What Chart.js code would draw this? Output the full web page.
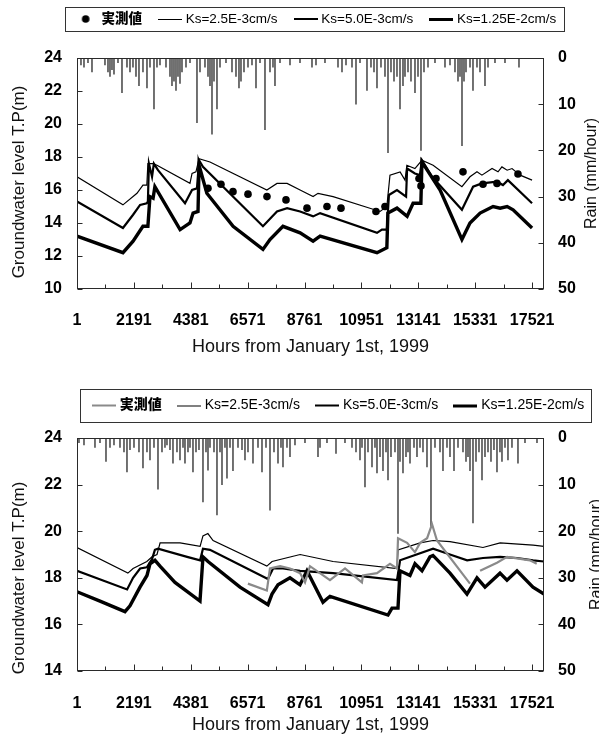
<!DOCTYPE html>
<html>
<head>
<meta charset="utf-8">
<script src="https://cdn.jsdelivr.net/npm/chart.js@4.4.1/dist/chart.umd.min.js"></script>
<style>
  body { margin: 0; background: #fff; }
  .panel { position: absolute; left: 0; width: 599px; }
</style>
</head>
<body>
<div class="panel" style="top:0;height:368px"><canvas id="topChart" width="599" height="368"></canvas></div>
<div class="panel" style="top:368px;height:369px"><canvas id="bottomChart" width="599" height="369"></canvas></div>
<script>
// x axis: hours from 1999-01-01, labelled every 2190 h
const hourTicks = [1, 2191, 4381, 6571, 8761, 10951, 13141, 15331, 17521];
const minorTicks = [1096, 3286, 5476, 7666, 9856, 12046, 14236, 16426];
const legendLabels = ['実測値', 'Ks=2.5E-3cm/s', 'Ks=5.0E-3cm/s', 'Ks=1.25E-2cm/s'];

// ---- upper panel ----  [hour, value]
const topRain = [[154,1.5],[270,2],[424,1],[578,3],[1078,1.5],[1194,3],[1271,4],[1348,2.5],[1425,3.5],[1579,1],
  [1733,7.5],[1925,2],[2041,3],[2156,2],[2272,4],[2387,6],[2541,3],[2695,6.5],[2811,2],[2965,11],[3080,2],[3196,1.5],
  [3427,2],[3581,4],[3658,6],[3735,5],[3812,7],[3889,4],[3966,5.5],[4043,3],[4197,2],[4351,1],[4620,14],[4736,3],
  [4928,2],[5044,4],[5121,6],[5198,16.5],[5275,5],[5390,11],[5506,2],[5737,1],[5968,3],[6122,4],[6237,6.5],[6314,5],
  [6430,3],[6584,2],[6738,1.5],[6892,6.5],[7046,1],[7238,15.5],[7431,3],[7546,2],[7623,6],[7816,1],[8201,1.5],[8586,1],
  [9048,2],[9202,1.5],[9548,1],[10049,2],[10203,3],[10357,1.5],[10588,2],[10742,10],[10896,1],[11165,7],[11319,2],
  [11435,3],[11550,6.5],[11704,2],[11858,4],[11974,20.5],[12089,3],[12205,5],[12320,4],[12436,11],[12551,6],[12628,4],
  [12744,3],[12859,5],[13013,7.5],[13129,4],[13244,20],[13360,3],[13514,2],[13783,1],[14168,2],[14361,1.5],[14553,3],
  [14669,5],[14746,4],[14823,19],[14900,5],[14977,3],[15131,2],[15246,7],[15400,2],[15516,3],[15708,6],[15824,2],
  [16093,1],[16478,1],[17017,2]];
const topObserved = [[5044,16.1],[5544,16.35],[6006,15.9],[6584,15.75],[7315,15.6],[8047,15.4],[8855,14.9],[9625,15.0],
  [10164,14.9],[11512,14.7],[11858,15.0],[13167,16.7],[13244,16.25],[13822,16.7],[14861,17.1],[15631,16.35],[16170,16.4],[16978,16.97]];
const topKs25 = [[1,16.8],[1770,15.1],[2310,15.8],[2540,16.3],[2690,16.3],[2730,17.6],[2930,17.6],[3080,17.5],[4350,16.4],
  [4430,17.0],[4580,17.1],[4700,17.9],[5120,17.7],[7310,16.0],[7700,16.4],[8090,16.4],[8590,16.0],[9090,15.6],[9280,15.8],
  [9860,15.6],[11670,14.7],[11930,15.0],[12050,16.9],[12440,17.1],[12630,16.6],[12700,17.5],[13010,17.3],[13280,17.8],
  [13710,17.5],[14820,16.2],[15130,16.8],[15400,17.1],[15590,16.9],[15980,17.3],[16210,17.1],[16360,17.4],[16560,17.2],
  [16750,17.3],[17060,16.9],[17520,16.6]];
const topKs50 = [[1,15.3],[1770,13.7],[2160,14.5],[2430,15.1],[2690,15.2],[2730,15.3],[2770,17.6],[2890,16.8],[2960,17.6],
  [3120,17.2],[4160,15.2],[4430,16.0],[4620,16.1],[4700,17.8],[4850,17.4],[7160,13.8],[7700,14.7],[8090,14.9],[8590,14.7],
  [9090,14.4],[9360,14.6],[11550,13.4],[11740,13.6],[11930,13.6],[12010,15.7],[12320,16.0],[12670,15.6],[12710,17.3],
  [13010,17.0],[13200,16.9],[13280,17.8],[13670,16.8],[14820,14.8],[15250,16.2],[15590,16.4],[16170,16.5],[16400,16.3],
  [16590,16.6],[17520,15.2]];
const topKs125 = [[1,13.2],[1770,12.2],[2160,12.9],[2540,13.8],[2730,13.8],[2810,15.6],[2930,15.5],[3000,16.2],[3970,13.6],
  [4350,14.0],[4470,14.6],[4660,14.7],[4700,17.5],[5000,15.8],[6010,13.8],[7160,12.4],[7430,13.0],[7930,13.8],[8590,13.4],
  [9090,12.9],[9360,13.2],[11550,12.2],[11930,12.5],[11970,14.6],[12320,14.9],[12710,14.4],[12940,15.2],[13240,15.2],
  [13280,17.7],[13980,16.0],[14820,13.0],[15130,14.0],[15520,14.6],[16020,15.0],[16290,14.9],[16560,15.0],[16790,14.8],
  [17520,13.7]];

// ---- lower panel ----
const bottomRain = [[77,1],[270,1.5],[693,2],[886,1],[1117,5],[1271,2],[1425,1.5],[1656,2],[1810,3],[1925,7.3],[2041,2.5],
  [2195,2],[2387,3],[2541,6.4],[2695,3],[2811,4.7],[2965,2],[3119,11],[3273,3],[3388,2],[3465,1.5],[3581,2.5],[3696,5.4],
  [3850,3],[3966,4.7],[4082,2],[4158,5.4],[4274,3],[4351,2],[4466,7.3],[4582,3],[4697,2.5],[4851,13.7],[4967,3],[5044,6.9],
  [5121,2],[5275,3],[5390,16.5],[5506,3],[5583,10],[5698,2],[5775,8.6],[5891,2],[6006,7],[6199,2],[6353,2.5],[6468,4.7],
  [6584,3],[6776,5.4],[6969,2],[7123,7.3],[7277,2],[7431,15.5],[7585,3],[7739,5.4],[7854,2],[7931,6.2],[8085,2],[8201,4],
  [8393,1.5],[8778,1],[9279,4],[9356,2],[9625,1],[9972,3.3],[10318,1],[10588,2],[10742,3],[10896,4.7],[10973,2],[11088,10.5],
  [11204,3],[11358,6.2],[11473,2],[11550,7.5],[11666,4],[11781,7],[11897,3],[11974,9],[12089,4],[12243,3],[12359,20.5],
  [12436,5],[12551,7.5],[12667,4],[12744,3],[12821,5.4],[12975,2],[13090,4],[13206,2],[13321,3],[13475,6.2],[13629,19],
  [13783,2],[13976,3],[14091,7],[14245,2],[14361,4],[14515,7],[14669,2],[14861,3],[14977,5],[15054,4],[15131,7],[15246,18.2],
  [15362,5],[15477,3],[15593,9],[15708,4],[15824,3],[15939,5],[16054,2.5],[16170,7.3],[16285,3],[16362,5],[16478,2],
  [16593,4.7],[16747,2],[16978,5.4],[17248,1],[17710,1]];
const bottomObserved = [[6580,17.75],[7310,17.45],[7430,18.4],[7820,18.5],[8200,18.4],[8590,18.2],[8780,17.8],[8970,18.5],
  [9740,17.9],[10320,18.4],[10970,17.8],[11010,18.1],[11550,18.2],[12050,18.6],[12320,18.4],[12360,19.7],[12710,19.5],
  [13010,19.1],[13210,19.5],[13480,19.7],[13670,20.3],[13860,19.6],[15130,17.75],[15135,null],[15520,18.3],[16170,18.65],
  [16560,18.9],[17440,18.75],[17700,18.6]];
const bottomKs25 = [[1,19.3],[1960,18.2],[2160,18.4],[2690,18.7],[2890,18.9],[3080,19.0],[3200,19.5],[3970,19.5],[4740,19.35],
  [4850,19.8],[5040,19.9],[5240,19.6],[7310,18.5],[7510,18.7],[8590,19.0],[9860,18.7],[12320,18.4],[12360,19.2],[13210,19.5],
  [13710,19.6],[14360,19.55],[15630,19.3],[16290,19.5],[17560,19.4],[17980,19.35]];
const bottomKs50 = [[1,18.3],[1930,17.5],[2160,18.0],[2430,18.4],[2690,18.45],[2890,18.8],[3000,19.2],[3120,19.25],[4240,18.9],
  [4740,18.75],[4850,19.25],[5120,19.2],[7350,17.95],[7550,18.4],[7930,18.4],[8590,18.3],[9860,18.2],[12320,17.9],[12440,18.75],
  [13710,19.25],[14360,19.0],[15020,18.75],[15630,18.85],[16290,18.9],[16940,18.85],[17560,18.75],[17980,18.7]];
const bottomKs125 = [[1,17.4],[886,17.0],[1848,16.55],[2041,16.8],[2426,17.6],[2695,18.1],[2811,18.6],[3003,18.75],[3196,18.5],
  [3773,17.8],[4736,17.0],[4851,18.9],[5044,18.7],[6276,17.6],[7354,16.85],[7508,17.3],[7739,17.7],[8201,18.0],[8586,17.7],
  [8855,18.3],[9471,16.95],[9625,17.1],[9740,17.2],[11974,16.4],[12128,16.7],[12359,16.7],[12436,18.3],[12821,18.1],
  [13013,18.6],[13283,18.3],[13591,18.9],[13706,18.96],[14361,18.2],[15015,17.3],[15400,18.0],[15708,17.6],[16286,18.2],
  [16555,17.9],[16940,18.3],[17556,17.6],[17980,17.3]];

Chart.defaults.font.family = "'Liberation Sans', 'Noto Sans CJK JP', sans-serif";
Chart.defaults.color = '#000';

function toXY(arr) {
  return arr.map(p => ({ x: p[0], y: p[1] }));
}

// little images used as legend symbols
function swatch(kind, color, lw) {
  const c = document.createElement('canvas');
  c.width = 24; c.height = 12;
  const g = c.getContext('2d');
  if (kind === 'dot') {
    g.fillStyle = color;
    g.beginPath(); g.arc(12, 6, 3.8, 0, Math.PI * 2); g.fill();
  } else {
    g.fillStyle = color;
    g.fillRect(0, Math.round(6 - lw / 2), 24, Math.max(1, Math.round(lw)));
  }
  return c;
}

const decor = {
  id: 'decor',
  beforeUpdate(chart, args, o) {
    const lg = chart.legend;
    if (lg && !lg._fixedFit) {
      const fit = lg.fit;
      lg.fit = function () { fit.call(this); this.height = o.legendHeight; };
      lg._fixedFit = true;
    }
  },
  afterLayout(chart, args, o) {
    const lg = chart.legend;
    const p = lg.options.labels.padding;
    const fs = lg.options.labels.font.size;
    const x0 = (lg.left + p + lg.right - lg.lineWidths[0]) / 2;
    const dx = Math.round(o.itemsLeft - x0);
    const dy = o.itemsMidY - (lg.top + p + fs / 2);
    lg.left += dx; lg.right += dx;
    lg.top += dy; lg.bottom += dy;
  },
  afterDraw(chart, args, o) {
    const { ctx, chartArea: a } = chart;
    const xs = chart.scales.x, ys = chart.scales.y, rs = chart.scales.rain;
    ctx.save();
    ctx.strokeStyle = '#2a2a2a';
    ctx.lineWidth = 1;
    const L = Math.round(a.left) + 0.5, R = Math.round(a.right) - 0.5;
    const T = Math.round(a.top) + 0.5, B = Math.round(a.bottom) - 0.5;
    ctx.strokeRect(L, T, R - L, B - T);
    ctx.beginPath();
    hourTicks.forEach(v => {
      const px = Math.round(xs.getPixelForValue(v)) + 0.5;
      ctx.moveTo(px, B); ctx.lineTo(px, B - 6);
    });
    minorTicks.forEach(v => {
      const px = Math.round(xs.getPixelForValue(v)) + 0.5;
      ctx.moveTo(px, B); ctx.lineTo(px, B - 4);
    });
    ys.ticks.forEach(t => {
      const py = Math.round(ys.getPixelForValue(t.value)) + 0.5;
      ctx.moveTo(L, py); ctx.lineTo(L + 5, py);
    });
    rs.ticks.forEach(t => {
      const py = Math.round(rs.getPixelForValue(t.value)) + 0.5;
      ctx.moveTo(R, py); ctx.lineTo(R - 5, py);
    });
    ctx.stroke();

    // frame round the legend
    const hb = chart.legend.legendHitBoxes;
    const last = hb[hb.length - 1];
    const bl = Math.round(hb[0].left - o.boxPad[0]) + 0.5;
    const br = Math.round(last.left + last.width + o.boxPad[1]) + 0.5;
    ctx.strokeStyle = '#333';
    ctx.strokeRect(bl, o.boxY[0] + 0.5, br - bl, o.boxY[1] - o.boxY[0]);

    // vertical axis titles, both reading upwards
    ctx.fillStyle = '#111';
    ctx.textAlign = 'center';
    ctx.textBaseline = 'middle';
    ctx.font = "17px 'Liberation Sans', sans-serif";
    ctx.translate(o.leftTitle[0], o.leftTitle[1]);
    ctx.rotate(-Math.PI / 2);
    ctx.fillText('Groundwater level T.P(m)', 0, 0);
    ctx.setTransform(1, 0, 0, 1, 0, 0);
    ctx.font = "16px 'Liberation Sans', sans-serif";
    ctx.translate(rs.right + o.rightTitle[0], (a.top + a.bottom) / 2 + o.rightTitle[1]);
    ctx.rotate(-Math.PI / 2);
    ctx.fillText('Rain (mm/hour)', 0, 0);
    ctx.restore();
  }
};

function makeChart(id, cfg) {
  const obsSet = cfg.observedAsDots
    ? { type: 'line', label: legendLabels[0], data: toXY(cfg.observed), yAxisID: 'y', showLine: false,
        pointRadius: 3.8, pointBackgroundColor: '#000', pointBorderWidth: 0, order: 1 }
    : { type: 'line', label: legendLabels[0], data: toXY(cfg.observed), yAxisID: 'y', borderColor: '#8a8a8a',
        borderWidth: 2.2, pointRadius: 0, spanGaps: false, order: 1 };
  const swatches = [
    cfg.observedAsDots ? swatch('dot', '#000') : swatch('line', '#8a8a8a', 2),
    swatch('line', '#000', 1),
    swatch('line', '#000', 2),
    swatch('line', '#000', 3)
  ];
  return new Chart(document.getElementById(id), {
    type: 'line',
    data: {
      datasets: [
        { type: 'bar', label: 'rain', data: toXY(cfg.rain), yAxisID: 'rain', backgroundColor: '#555',
          barThickness: 1, order: 9 },
        obsSet,
        { label: legendLabels[1], data: toXY(cfg.ks25), yAxisID: 'y', borderColor: '#000', borderWidth: 1.2, pointRadius: 0, order: 2 },
        { label: legendLabels[2], data: toXY(cfg.ks50), yAxisID: 'y', borderColor: '#000', borderWidth: 2.2, pointRadius: 0, order: 3 },
        { label: legendLabels[3], data: toXY(cfg.ks125), yAxisID: 'y', borderColor: '#000', borderWidth: 3.4, pointRadius: 0, order: 4 }
      ]
    },
    options: {
      responsive: false,
      animation: false,
      devicePixelRatio: 1,
      layout: { padding: 0 },
      elements: { line: { tension: 0 } },
      plugins: {
        tooltip: { enabled: false },
        legend: {
          position: 'top',
          labels: {
            usePointStyle: true,
            pointStyleWidth: 18,
            padding: cfg.legendGap,
            color: '#000',
            font: { size: cfg.legendFont, family: "'Liberation Sans', 'Noto Sans CJK JP Black', 'Noto Sans CJK JP', sans-serif" },
            generateLabels(chart) {
              const items = Chart.defaults.plugins.legend.labels.generateLabels(chart);
              return items.filter(it => it.datasetIndex > 0).map(it => {
                it.pointStyle = swatches[it.datasetIndex - 1];
                it.fontColor = '#000';
                return it;
              });
            }
          }
        },
        decor: cfg.decor
      },
      scales: {
        x: {
          type: 'linear', min: 1, max: 17980, offset: false,
          afterBuildTicks: s => { s.ticks = hourTicks.map(v => ({ value: v })); },
          afterFit: s => { s.height = cfg.xHeight; },
          grid: { display: false, drawTicks: false },
          border: { display: false },
          ticks: { font: { size: 16, weight: 'bold' }, padding: cfg.xTickPad, maxRotation: 0, autoSkip: false,
                   callback: v => String(v) },
          title: { display: true, text: 'Hours from January 1st, 1999', color: '#111',
                   font: { size: 18 }, padding: { top: 0, bottom: cfg.xTitlePad } }
        },
        y: {
          position: 'left', min: cfg.yMin, max: 24,
          afterFit: s => { s.width = 77; },
          grid: { display: false, drawTicks: false },
          border: { display: false },
          ticks: { stepSize: 2, font: { size: 16, weight: 'bold' }, padding: 15 }
        },
        rain: {
          position: 'right', min: 0, max: 50, reverse: true,
          afterFit: s => { s.width = 55; },
          grid: { display: false, drawTicks: false },
          border: { display: false },
          ticks: { stepSize: 10, font: { size: 16, weight: 'bold' }, padding: 14 }
        }
      }
    },
    plugins: [decor]
  });
}

makeChart('topChart', {
  rain: topRain, observed: topObserved, ks25: topKs25, ks50: topKs50, ks125: topKs125,
  observedAsDots: true, yMin: 10, xHeight: 79, xTickPad: 22, xTitlePad: 10,
  legendFont: 13.5, legendGap: 19,
  decor: { legendHeight: 58, itemsLeft: 77, itemsMidY: 19, boxPad: [12, 8], boxY: [7, 31],
           leftTitle: [19, 182], rightTitle: [-7, 0] }
});

makeChart('bottomChart', {
  rain: bottomRain, observed: bottomObserved, ks25: bottomKs25, ks50: bottomKs50, ks125: bottomKs125,
  observedAsDots: false, yMin: 14, xHeight: 66, xTickPad: 23, xTitlePad: 1,
  legendFont: 14, legendGap: 18,
  decor: { legendHeight: 70, itemsLeft: 95, itemsMidY: 37.5, boxPad: [15, 7], boxY: [21, 54],
           leftTitle: [19, 210], rightTitle: [-2, 0] }
});
</script>
</body>
</html>
